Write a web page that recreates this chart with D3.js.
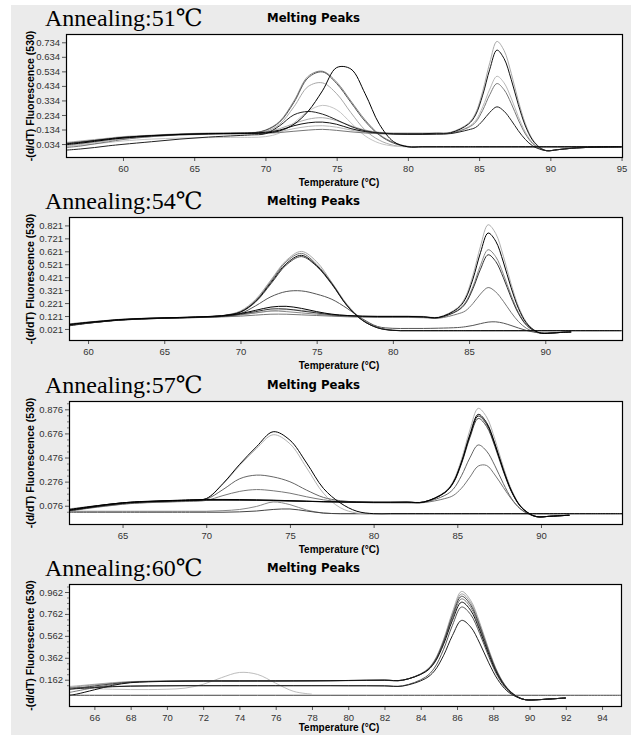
<!DOCTYPE html>
<html><head><meta charset="utf-8">
<script src="https://cdn.jsdelivr.net/npm/d3@7"></script>
<style>body{margin:0;background:#fff} svg{display:block}</style>
</head><body><svg id="c" width="631" height="735"></svg>
<script>
// ---------------- Panel 1: Annealing 51 ----------------
const temps51 = [56,57,58,59,60,62,64,66,68,69,70,71,72,73,74,75,76,77,78,79,80,81,82,83,84.25,84.75,85.25,85.75,86.25,86.75,87.25,87.75,88.25,88.75,89.25,89.75,90.5,91.5,93,95];
const curves51 = [
  [0.045,0.055,0.065,0.075,0.085,0.095,0.105,0.11,0.112,0.113,0.12,0.14,0.175,0.205,0.215,0.195,0.16,0.13,0.115,0.11,0.11,0.11,0.11,0.115, 0.177,0.247,0.397,0.594,0.74,0.678,0.522,0.333,0.173,0.067,0.012,-0.012, -0.005,0.005,0.012,0.015],
  [0.02,0.03,0.045,0.06,0.072,0.088,0.098,0.104,0.106,0.108,0.11,0.12,0.14,0.155,0.16,0.15,0.13,0.115,0.108,0.104,0.103,0.104,0.106,0.11, 0.153,0.195,0.289,0.412,0.50,0.455,0.350,0.223,0.115,0.043,0.005,-0.012, -0.005,0.005,0.012,0.015],
  [0.025,0.035,0.047,0.058,0.07,0.085,0.096,0.1,0.104,0.106,0.12,0.17,0.29,0.43,0.455,0.38,0.25,0.13,0.06,0.025,0.015, 0.015,0.015,0.015,0.015,0.015,0.015,0.015,0.015,0.015,0.015,0.015,0.015,0.015,0.015,0.015,0.015,0.015,0.015,0.015],
  [0.015,0.025,0.035,0.045,0.055,0.068,0.075,0.078,0.08,0.08,0.085,0.11,0.18,0.26,0.3,0.27,0.18,0.09,0.04,0.02,0.015, 0.015,0.015,0.015,0.015,0.015,0.015,0.015,0.015,0.015,0.015,0.015,0.015,0.015,0.015,0.015,0.015,0.015,0.015,0.015],
  [0.01,0.02,0.035,0.05,0.065,0.085,0.097,0.103,0.105,0.106,0.108,0.113,0.122,0.13,0.135,0.128,0.118,0.11,0.105,0.102,0.1,0.1,0.103,0.108, 0.148,0.184,0.266,0.374,0.45,0.408,0.314,0.200,0.103,0.038,0.003,-0.012, -0.005,0.005,0.012,0.015],
  [0.04,0.05,0.06,0.07,0.08,0.093,0.102,0.107,0.108,0.11,0.13,0.19,0.33,0.5,0.535,0.46,0.33,0.2,0.1,0.045,0.018, 0.015,0.015,0.015,0.015,0.015,0.015,0.015,0.015,0.015,0.015,0.015,0.015,0.015,0.015,0.015,0.015,0.015,0.015,0.015],
  [0.038,0.048,0.058,0.068,0.078,0.092,0.101,0.106,0.108,0.11,0.128,0.185,0.32,0.49,0.53,0.45,0.32,0.19,0.095,0.04,0.016, 0.015,0.015,0.015,0.015,0.015,0.015,0.015,0.015,0.015,0.015,0.015,0.015,0.015,0.015,0.015,0.015,0.015,0.015,0.015],
  [0.035,0.045,0.058,0.07,0.08,0.092,0.1,0.105,0.108,0.11,0.115,0.13,0.16,0.18,0.185,0.17,0.14,0.12,0.11,0.105,0.105,0.105,0.108,0.112, 0.171,0.234,0.370,0.549,0.68,0.622,0.479,0.306,0.158,0.061,0.010,-0.012, -0.005,0.005,0.012,0.015],
  [-0.008,0.0,0.01,0.022,0.032,0.05,0.068,0.082,0.092,0.097,0.105,0.16,0.235,0.258,0.24,0.2,0.155,0.125,0.11,0.103,0.1,0.1,0.102,0.106, 0.132,0.148,0.194,0.252,0.29,0.260,0.198,0.126,0.065,0.022,-0.001,-0.012, -0.005,0.005,0.012,0.015],
  [0.03,0.04,0.052,0.065,0.075,0.09,0.1,0.105,0.107,0.108,0.11,0.125,0.17,0.26,0.4,0.56,0.55,0.38,0.17,0.05,0.015, 0.015,0.015,0.015,0.015,0.015,0.015,0.015,0.015,0.015,0.015,0.015,0.015,0.015,0.015,0.015,0.015,0.015,0.015,0.015]
];
const shades51 = ['#aaaaaa','#b8b8b8','#a8a8a8','#c4c4c4','#777777','#888888','#555555','#111111','#222222','#000000'];
const yTicks51 = [0.034,0.134,0.234,0.334,0.434,0.534,0.634,0.734];
const xTicks51 = [60,65,70,75,80,85,90,95];
const xDomain51 = [56,95.1];
const yDomain51 = [-0.062,0.791];

// ---------------- Panel 2: Annealing 54 ----------------
const temps54 = [58.75,60,61,62,64,66,68,69,70,71,72,73,74,75,76,77,78,79,80,81,82,83,84.25,84.75,85.25,85.75,86.25,86.75,87.25,87.75,88.25,88.75,89.25,89.75,90.5,91,91.7,93,95];
const curves54 = [
  [0.06,0.075,0.085,0.095,0.105,0.11,0.115,0.12,0.13,0.145,0.16,0.17,0.165,0.15,0.135,0.125,0.12,0.12,0.12,0.12,0.118,0.112, 0.186,0.266,0.435,0.660,0.826,0.758,0.584,0.373,0.193,0.076,0.015,-0.012, -0.01,-0.006,-0.002,null,null],
  [0.06,0.074,0.084,0.094,0.104,0.11,0.118,0.128,0.16,0.25,0.4,0.55,0.62,0.54,0.38,0.21,0.095,0.035,0.012, 0.008,0.008,0.008,0.008,0.008,0.008,0.008,0.008,0.008,0.008,0.008,0.008,0.008,0.008,0.008,0.008,0.008,0.008,0.008,0.008],
  [0.05,0.068,0.08,0.09,0.102,0.108,0.115,0.12,0.13,0.145,0.16,0.155,0.145,0.135,0.125,0.12,0.117,0.115,0.115,0.115,0.112,0.108, 0.166,0.224,0.348,0.513,0.633,0.579,0.445,0.284,0.147,0.056,0.009,-0.012, -0.01,-0.006,-0.002,null,null],
  [0.05,0.066,0.078,0.088,0.1,0.106,0.112,0.115,0.12,0.128,0.135,0.135,0.13,0.125,0.12,0.115,0.112,0.11,0.11,0.11,0.108,0.104, 0.137,0.160,0.217,0.291,0.341,0.307,0.235,0.150,0.077,0.027,0.0,-0.012, -0.01,-0.006,-0.002,null,null],
  [0.058,0.072,0.082,0.092,0.103,0.109,0.117,0.127,0.155,0.24,0.39,0.54,0.605,0.52,0.375,0.205,0.09,0.032,0.011, 0.008,0.008,0.008,0.008,0.008,0.008,0.008,0.008,0.008,0.008,0.008,0.008,0.008,0.008,0.008,0.008,0.008,0.008,0.008,0.008],
  [0.048,0.066,0.078,0.088,0.1,0.106,0.112,0.12,0.14,0.2,0.27,0.31,0.315,0.29,0.25,0.18,0.1,0.04,0.026,0.025,0.025,0.027, 0.032,0.038,0.048,0.062,0.074,0.076,0.066,0.048,0.028,0.01,-0.003,-0.01, -0.008,-0.005,-0.002,null,null],
  [0.052,0.068,0.079,0.09,0.101,0.108,0.116,0.126,0.15,0.23,0.37,0.515,0.58,0.505,0.365,0.2,0.088,0.03,0.01, 0.008,0.008,0.008,0.008,0.008,0.008,0.008,0.008,0.008,0.008,0.008,0.008,0.008,0.008,0.008,0.008,0.008,0.008,0.008,0.008],
  [0.045,0.065,0.078,0.09,0.1,0.107,0.114,0.12,0.135,0.155,0.175,0.175,0.16,0.145,0.13,0.122,0.118,0.116,0.116,0.116,0.113,0.108, 0.162,0.215,0.331,0.483,0.594,0.542,0.417,0.266,0.138,0.052,0.008,-0.012, -0.01,-0.006,-0.002,null,null],
  [0.055,0.07,0.08,0.09,0.102,0.108,0.116,0.126,0.152,0.235,0.38,0.525,0.59,0.51,0.37,0.2,0.088,0.03,0.01, 0.008,0.008,0.008,0.008,0.008,0.008,0.008,0.008,0.008,0.008,0.008,0.008,0.008,0.008,0.008,0.008,0.008,0.008,0.008,0.008],
  [0.055,0.072,0.083,0.093,0.104,0.11,0.118,0.125,0.14,0.165,0.19,0.196,0.18,0.155,0.135,0.125,0.12,0.118,0.118,0.118,0.115,0.11, 0.179,0.252,0.406,0.611,0.762,0.699,0.538,0.343,0.178,0.069,0.013,-0.012, -0.01,-0.006,-0.002,null,null]
];
const shades54 = ['#b0b0b0','#a8a8a8','#888888','#777777','#777777','#555555','#444444','#333333','#111111','#000000'];
const yTicks54 = [0.021,0.121,0.221,0.321,0.421,0.521,0.621,0.721,0.821];
const xTicks54 = [60,65,70,75,80,85,90];
const xDomain54 = [58.75,95.1];
const yDomain54 = [-0.072,0.886];

// ---------------- Panel 3: Annealing 57 ----------------
const temps57 = [61.8,63,64,65,66,68,69,70,71,72,73,74,75,76,77,78,79,80,81,82,83,84.25,84.75,85.25,85.75,86.25,86.75,87.25,87.75,88.25,88.75,89.25,89.75,90.5,91,91.7,93,94.9];
const curves57 = [
  [0.03,0.03,0.03,0.03,0.03,0.03,0.03,0.03,0.035,0.045,0.07,0.107,0.085,0.04,0.015,0.01,0.01,0.01, 0.01,0.01,0.01,0.01,0.01,0.01,0.01,0.01,0.01,0.01,0.01,0.01,0.01,0.01,0.01,0.01,0.01,0.01,0.01,0.01],
  [0.022,0.022,0.022,0.022,0.022,0.022,0.022,0.022,0.022,0.025,0.032,0.045,0.049,0.032,0.015,0.01,0.01,0.01, 0.01,0.01,0.01,0.01,0.01,0.01,0.01,0.01,0.01,0.01,0.01,0.01,0.01,0.01,0.01,0.01,0.01,0.01,0.01,0.01],
  [0.05,0.07,0.085,0.1,0.108,0.115,0.118,0.12,0.12,0.12,0.12,0.118,0.115,0.112,0.11,0.108,0.107,0.106,0.106,0.107,0.108, 0.191,0.279,0.461,0.704,0.884,0.812,0.626,0.399,0.207,0.081,0.016,-0.015, -0.012,-0.008,-0.003,null,null],
  [0.035,0.062,0.082,0.098,0.107,0.118,0.122,0.135,0.255,0.41,0.55,0.665,0.59,0.39,0.18,0.06,0.015,0.01, 0.01,0.01,0.01,0.01,0.01,0.01,0.01,0.01,0.01,0.01,0.01,0.01,0.01,0.01,0.01,0.01,0.01,0.01,0.01,0.01],
  [0.03,0.055,0.072,0.088,0.098,0.108,0.112,0.12,0.16,0.195,0.21,0.2,0.18,0.15,0.125,0.11,0.104,0.1,0.1,0.1,0.102, 0.135,0.160,0.221,0.313,0.405,0.41,0.331,0.228,0.128,0.053,0.01,-0.015, -0.012,-0.008,-0.003,null,null],
  [0.035,0.058,0.075,0.09,0.1,0.11,0.115,0.13,0.21,0.3,0.33,0.315,0.275,0.205,0.145,0.118,0.108,0.103,0.102,0.102,0.104, 0.161,0.212,0.325,0.473,0.58,0.529,0.407,0.260,0.134,0.051,0.007,-0.015, -0.012,-0.008,-0.003,null,null],
  [0.04,0.062,0.08,0.096,0.106,0.116,0.12,0.122,0.122,0.121,0.12,0.118,0.115,0.112,0.109,0.107,0.105,0.104,0.104,0.105,0.106, 0.183,0.261,0.424,0.640,0.80,0.734,0.566,0.361,0.187,0.073,0.014,-0.015, -0.012,-0.008,-0.003,null,null],
  [0.035,0.06,0.08,0.095,0.105,0.115,0.12,0.123,0.124,0.124,0.122,0.12,0.116,0.112,0.109,0.107,0.105,0.104,0.104,0.105,0.107, 0.185,0.265,0.433,0.655,0.82,0.753,0.580,0.370,0.192,0.075,0.015,-0.015, -0.012,-0.008,-0.003,null,null],
  [0.045,0.068,0.085,0.1,0.11,0.12,0.125,0.128,0.128,0.127,0.125,0.122,0.118,0.114,0.11,0.108,0.106,0.105,0.105,0.106,0.107, 0.186,0.268,0.439,0.666,0.834,0.766,0.590,0.376,0.195,0.076,0.015,-0.015, -0.012,-0.008,-0.003,null,null],
  [0.04,0.065,0.085,0.1,0.108,0.118,0.122,0.135,0.26,0.42,0.565,0.69,0.62,0.43,0.22,0.1,0.03,0.01, 0.01,0.01,0.01,0.01,0.01,0.01,0.01,0.01,0.01,0.01,0.01,0.01,0.01,0.01,0.01,0.01,0.01,0.01,0.01,0.01]
];
const shades57 = ['#888888','#444444','#b0b0b0','#b4b4b4','#777777','#666666','#444444','#1a1a1a','#000000','#000000'];
const yTicks57 = [0.076,0.276,0.476,0.676,0.876];
const xTicks57 = [65,70,75,80,85,90];
const xDomain57 = [61.8,94.9];
const yDomain57 = [-0.084,0.945];

// ---------------- Panel 4: Annealing 60 ----------------
const temps60 = [64.6,65,66,67,68,69,70,71,72,73,74,75,76,77,78,79,80,81,82,83,84.25,84.75,85.25,85.75,86.25,86.75,87.25,87.75,88.25,88.75,89.25,89.75,90.5,91,92,93,95.1];
const curves60 = [
  [0.02,0.02,0.02,0.02,0.02,0.02,0.02,0.02,0.02,0.02,0.02,0.02,0.02,0.02,0.02,0.02,0.02,0.02,0.02,0.02,0.02,0.02,0.02,0.02,0.02,0.02,0.02,0.02,0.02,0.02,0.02,0.02,0.02,0.02,0.02,0.02,0.02],
  [0.095,0.09,0.08,0.075,0.072,0.072,0.075,0.085,0.12,0.18,0.228,0.21,0.13,0.055,0.03],
  [0.1,0.105,0.12,0.135,0.145,0.148,0.15,0.152,0.153,0.153,0.153,0.153,0.153,0.153,0.153,0.153,0.154,0.155,0.156,0.156, 0.242,0.336,0.525,0.779,0.967,0.886,0.684,0.439,0.228,0.092,0.016,-0.02, -0.02,-0.015,-0.005,null,null],
  [0.09,0.097,0.115,0.13,0.143,0.147,0.149,0.151,0.152,0.152,0.152,0.152,0.152,0.152,0.152,0.153,0.154,0.156,0.158,0.158, 0.239,0.331,0.515,0.761,0.944,0.865,0.668,0.428,0.223,0.089,0.015,-0.02, -0.02,-0.015,-0.005,null,null],
  [0.045,0.058,0.09,0.118,0.137,0.145,0.148,0.15,0.15,0.151,0.151,0.151,0.151,0.151,0.152,0.153,0.154,0.155,0.156,0.157, 0.235,0.321,0.495,0.727,0.899,0.823,0.635,0.408,0.212,0.085,0.014,-0.02, -0.02,-0.015,-0.005,null,null],
  [0.085,0.088,0.095,0.1,0.104,0.106,0.107,0.108,0.108,0.108,0.108,0.108,0.108,0.108,0.108,0.108,0.108,0.108,0.107,0.106, 0.184,0.268,0.435,0.659,0.825,0.757,0.584,0.372,0.191,0.074,0.011,-0.02, -0.02,-0.015,-0.005,null,null],
  [0.075,0.083,0.105,0.125,0.14,0.146,0.148,0.15,0.151,0.151,0.151,0.152,0.152,0.152,0.152,0.153,0.155,0.157,0.158,0.158, 0.237,0.326,0.505,0.745,0.923,0.845,0.653,0.419,0.218,0.087,0.015,-0.02, -0.02,-0.015,-0.005,null,null],
  [0.02,0.03,0.07,0.11,0.135,0.143,0.147,0.149,0.15,0.15,0.15,0.15,0.15,0.151,0.152,0.153,0.155,0.157,0.158,0.158, 0.232,0.314,0.481,0.704,0.869,0.795,0.614,0.394,0.205,0.082,0.013,-0.02, -0.02,-0.015,-0.005,null,null],
  [0.075,0.08,0.09,0.098,0.103,0.105,0.106,0.107,0.107,0.107,0.107,0.107,0.107,0.107,0.107,0.107,0.106,0.106,0.105,0.104, 0.171,0.241,0.380,0.566,0.703,0.644,0.496,0.316,0.162,0.061,0.007,-0.02, -0.02,-0.015,-0.005,null,null]
];
const shades60 = ['#444444','#bdbdbd','#aaaaaa','#999999','#777777','#555555','#444444','#111111','#222222'];
const yTicks60 = [0.162,0.362,0.562,0.762,0.962];
const xTicks60 = [66,68,70,72,74,76,78,80,82,84,86,88,90,92,94];
const xDomain60 = [64.6,95.1];
const yDomain60 = [-0.087,1.035];

const titles = ['Annealing:51℃','Annealing:54℃','Annealing:57℃','Annealing:60℃'];

// ---------------- drawing ----------------
const svg = d3.select('#c');
svg.append('rect').attr('x',11).attr('y',5).attr('width',620).attr('height',730).attr('fill','#ebebeb');

const panels = [
  {temps:temps51, curves:curves51, shades:shades51, xt:xTicks51, yt:yTicks51, xd:xDomain51, yd:yDomain51, box:[66,34,623,158], minor:false},
  {temps:temps54, curves:curves54, shades:shades54, xt:xTicks54, yt:yTicks54, xd:xDomain54, yd:yDomain54, box:[69,217,623,341], minor:false},
  {temps:temps57, curves:curves57, shades:shades57, xt:xTicks57, yt:yTicks57, xd:xDomain57, yd:yDomain57, box:[69,401,623,525], minor:true},
  {temps:temps60, curves:curves60, shades:shades60, xt:xTicks60, yt:yTicks60, xd:xDomain60, yd:yDomain60, box:[69,584,622,707], minor:true}
];

panels.forEach((p, pi) => {
  const [x0, y0, x1, y1] = p.box;
  const x = d3.scaleLinear().domain(p.xd).range([x0, x1]);
  const y = d3.scaleLinear().domain(p.yd).range([y1, y0]);
  const g = svg.append('g');

  g.append('rect').attr('x', x0).attr('y', y0).attr('width', x1 - x0).attr('height', y1 - y0).attr('fill', '#fff');

  const cid = 'clip' + pi;
  svg.append('clipPath').attr('id', cid).append('rect')
    .attr('x', x0).attr('y', y0).attr('width', x1 - x0).attr('height', y1 - y0);

  const line = d3.line()
    .defined(d => d[1] !== null && d[1] !== undefined && d[0] !== undefined)
    .x(d => x(d[0])).y(d => y(d[1]))
    .curve(d3.curveCatmullRom.alpha(0.5));

  const lg = g.append('g').attr('clip-path', `url(#${cid})`);
  p.curves.forEach((vals, ci) => {
    const pts = vals.map((v, i) => [p.temps[i], v]).filter(d => d[0] !== undefined);
    lg.append('path').attr('d', line(pts)).attr('fill', 'none')
      .attr('stroke', p.shades[ci]).attr('stroke-width', 1).attr('stroke-linejoin', 'round');
  });

  g.append('rect').attr('x', x0 + 0.5).attr('y', y0 + 0.5).attr('width', x1 - x0 - 1).attr('height', y1 - y0 - 1)
    .attr('fill', 'none').attr('stroke', '#000').attr('stroke-width', 1.2);

  // y axis
  const ya = g.append('g').attr('transform', `translate(${x0},0)`)
    .call(d3.axisLeft(y).tickValues(p.yt).tickSize(4).tickPadding(2).tickFormat(d3.format('.3f')));
  ya.select('.domain').remove();
  ya.selectAll('line').attr('stroke', '#555');
  ya.selectAll('text').attr('font-family', 'Liberation Sans, Arial, sans-serif').attr('font-size', 9.5).attr('fill', '#333');
  if (p.minor) {
    const minorVals = d3.range(p.yt[0] - 0.05, p.yd[1], 0.05).filter(v => v > p.yd[0] && !p.yt.some(t => Math.abs(t - v) < 1e-6));
    const ym = g.append('g').attr('transform', `translate(${x0},0)`)
      .call(d3.axisLeft(y).tickValues(minorVals).tickSize(2).tickFormat(''));
    ym.select('.domain').remove();
    ym.selectAll('line').attr('stroke', '#777');
  }

  // x axis
  const xa = g.append('g').attr('transform', `translate(0,${y1})`)
    .call(d3.axisBottom(x).tickValues(p.xt).tickSize(3).tickPadding(4).tickFormat(d3.format('d')));
  xa.select('.domain').remove();
  xa.selectAll('line').attr('stroke', '#555');
  xa.selectAll('text').attr('font-family', 'Liberation Sans, Arial, sans-serif').attr('font-size', 9.5).attr('fill', '#333');

  // texts
  g.append('text').attr('x', 45).attr('y', y0 - 8).text(titles[pi])
    .attr('font-family', '"Liberation Serif", "Times New Roman", "DejaVu Serif", serif').attr('font-size', 24).attr('fill', '#000');
  g.append('text').attr('x', 267).attr('y', y0 - 12).text('Melting Peaks')
    .attr('font-family', '"DejaVu Sans", Verdana, sans-serif').attr('font-weight', 'bold').attr('font-size', 11.7).attr('fill', '#000');
  g.append('text').attr('x', 339).attr('y', Math.min(y1 + 28, 731)).attr('text-anchor', 'middle').text('Temperature (°C)')
    .attr('font-family', 'Liberation Sans, Arial, sans-serif').attr('font-weight', 'bold').attr('font-size', 10).attr('fill', '#000');
  g.append('text').attr('transform', `translate(30,${(y0 + y1) / 2}) rotate(-90)`).attr('text-anchor', 'middle')
    .attr('dominant-baseline', 'central').text('-(d/dT) Fluorescence (530)')
    .attr('font-family', 'Liberation Sans, Arial, sans-serif').attr('font-weight', 'bold').attr('font-size', 10.5).attr('fill', '#000');
});
</script>
</body></html>
